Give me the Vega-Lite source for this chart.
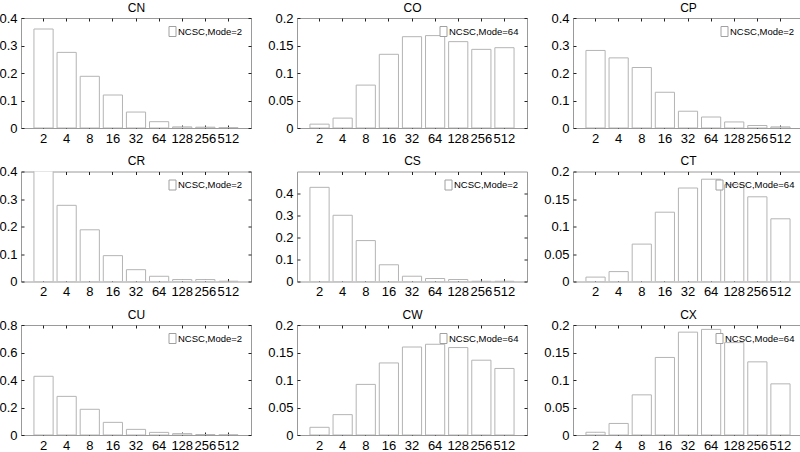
{
  "$schema": "https://vega.github.io/schema/vega-lite/v6.json",
  "padding": {"left": -7, "top": 0, "right": 0, "bottom": 0},
  "background": "white",
  "datasets": {
    "d": [
      {"panel":"CN","x":"2","v":0.360,"series":"NCSC,Mode=2"},
      {"panel":"CN","x":"4","v":0.275,"series":"NCSC,Mode=2"},
      {"panel":"CN","x":"8","v":0.188,"series":"NCSC,Mode=2"},
      {"panel":"CN","x":"16","v":0.120,"series":"NCSC,Mode=2"},
      {"panel":"CN","x":"32","v":0.058,"series":"NCSC,Mode=2"},
      {"panel":"CN","x":"64","v":0.023,"series":"NCSC,Mode=2"},
      {"panel":"CN","x":"128","v":0.004,"series":"NCSC,Mode=2"},
      {"panel":"CN","x":"256","v":0.003,"series":"NCSC,Mode=2"},
      {"panel":"CN","x":"512","v":0.001,"series":"NCSC,Mode=2"},
      {"panel":"CO","x":"2","v":0.007,"series":"NCSC,Mode=64"},
      {"panel":"CO","x":"4","v":0.018,"series":"NCSC,Mode=64"},
      {"panel":"CO","x":"8","v":0.078,"series":"NCSC,Mode=64"},
      {"panel":"CO","x":"16","v":0.134,"series":"NCSC,Mode=64"},
      {"panel":"CO","x":"32","v":0.166,"series":"NCSC,Mode=64"},
      {"panel":"CO","x":"64","v":0.168,"series":"NCSC,Mode=64"},
      {"panel":"CO","x":"128","v":0.157,"series":"NCSC,Mode=64"},
      {"panel":"CO","x":"256","v":0.143,"series":"NCSC,Mode=64"},
      {"panel":"CO","x":"512","v":0.146,"series":"NCSC,Mode=64"},
      {"panel":"CP","x":"2","v":0.282,"series":"NCSC,Mode=2"},
      {"panel":"CP","x":"4","v":0.255,"series":"NCSC,Mode=2"},
      {"panel":"CP","x":"8","v":0.220,"series":"NCSC,Mode=2"},
      {"panel":"CP","x":"16","v":0.130,"series":"NCSC,Mode=2"},
      {"panel":"CP","x":"32","v":0.061,"series":"NCSC,Mode=2"},
      {"panel":"CP","x":"64","v":0.040,"series":"NCSC,Mode=2"},
      {"panel":"CP","x":"128","v":0.022,"series":"NCSC,Mode=2"},
      {"panel":"CP","x":"256","v":0.009,"series":"NCSC,Mode=2"},
      {"panel":"CP","x":"512","v":0.004,"series":"NCSC,Mode=2"},
      {"panel":"CR","x":"2","v":0.430,"series":"NCSC,Mode=2"},
      {"panel":"CR","x":"4","v":0.277,"series":"NCSC,Mode=2"},
      {"panel":"CR","x":"8","v":0.188,"series":"NCSC,Mode=2"},
      {"panel":"CR","x":"16","v":0.094,"series":"NCSC,Mode=2"},
      {"panel":"CR","x":"32","v":0.043,"series":"NCSC,Mode=2"},
      {"panel":"CR","x":"64","v":0.019,"series":"NCSC,Mode=2"},
      {"panel":"CR","x":"128","v":0.007,"series":"NCSC,Mode=2"},
      {"panel":"CR","x":"256","v":0.007,"series":"NCSC,Mode=2"},
      {"panel":"CR","x":"512","v":0.001,"series":"NCSC,Mode=2"},
      {"panel":"CS","x":"2","v":0.428,"series":"NCSC,Mode=2"},
      {"panel":"CS","x":"4","v":0.301,"series":"NCSC,Mode=2"},
      {"panel":"CS","x":"8","v":0.186,"series":"NCSC,Mode=2"},
      {"panel":"CS","x":"16","v":0.076,"series":"NCSC,Mode=2"},
      {"panel":"CS","x":"32","v":0.024,"series":"NCSC,Mode=2"},
      {"panel":"CS","x":"64","v":0.0135,"series":"NCSC,Mode=2"},
      {"panel":"CS","x":"128","v":0.009,"series":"NCSC,Mode=2"},
      {"panel":"CS","x":"256","v":0.001,"series":"NCSC,Mode=2"},
      {"panel":"CS","x":"512","v":0.001,"series":"NCSC,Mode=2"},
      {"panel":"CT","x":"2","v":0.008,"series":"NCSC,Mode=64"},
      {"panel":"CT","x":"4","v":0.018,"series":"NCSC,Mode=64"},
      {"panel":"CT","x":"8","v":0.068,"series":"NCSC,Mode=64"},
      {"panel":"CT","x":"16","v":0.126,"series":"NCSC,Mode=64"},
      {"panel":"CT","x":"32","v":0.170,"series":"NCSC,Mode=64"},
      {"panel":"CT","x":"64","v":0.186,"series":"NCSC,Mode=64"},
      {"panel":"CT","x":"128","v":0.176,"series":"NCSC,Mode=64"},
      {"panel":"CT","x":"256","v":0.154,"series":"NCSC,Mode=64"},
      {"panel":"CT","x":"512","v":0.114,"series":"NCSC,Mode=64"},
      {"panel":"CU","x":"2","v":0.427,"series":"NCSC,Mode=2"},
      {"panel":"CU","x":"4","v":0.281,"series":"NCSC,Mode=2"},
      {"panel":"CU","x":"8","v":0.187,"series":"NCSC,Mode=2"},
      {"panel":"CU","x":"16","v":0.092,"series":"NCSC,Mode=2"},
      {"panel":"CU","x":"32","v":0.041,"series":"NCSC,Mode=2"},
      {"panel":"CU","x":"64","v":0.019,"series":"NCSC,Mode=2"},
      {"panel":"CU","x":"128","v":0.010,"series":"NCSC,Mode=2"},
      {"panel":"CU","x":"256","v":0.003,"series":"NCSC,Mode=2"},
      {"panel":"CU","x":"512","v":0.001,"series":"NCSC,Mode=2"},
      {"panel":"CW","x":"2","v":0.014,"series":"NCSC,Mode=64"},
      {"panel":"CW","x":"4","v":0.037,"series":"NCSC,Mode=64"},
      {"panel":"CW","x":"8","v":0.092,"series":"NCSC,Mode=64"},
      {"panel":"CW","x":"16","v":0.131,"series":"NCSC,Mode=64"},
      {"panel":"CW","x":"32","v":0.160,"series":"NCSC,Mode=64"},
      {"panel":"CW","x":"64","v":0.165,"series":"NCSC,Mode=64"},
      {"panel":"CW","x":"128","v":0.159,"series":"NCSC,Mode=64"},
      {"panel":"CW","x":"256","v":0.136,"series":"NCSC,Mode=64"},
      {"panel":"CW","x":"512","v":0.121,"series":"NCSC,Mode=64"},
      {"panel":"CX","x":"2","v":0.005,"series":"NCSC,Mode=64"},
      {"panel":"CX","x":"4","v":0.021,"series":"NCSC,Mode=64"},
      {"panel":"CX","x":"8","v":0.073,"series":"NCSC,Mode=64"},
      {"panel":"CX","x":"16","v":0.141,"series":"NCSC,Mode=64"},
      {"panel":"CX","x":"32","v":0.187,"series":"NCSC,Mode=64"},
      {"panel":"CX","x":"64","v":0.192,"series":"NCSC,Mode=64"},
      {"panel":"CX","x":"128","v":0.168,"series":"NCSC,Mode=64"},
      {"panel":"CX","x":"256","v":0.133,"series":"NCSC,Mode=64"},
      {"panel":"CX","x":"512","v":0.093,"series":"NCSC,Mode=64"}
    ]
  },
  "data": {"name": "d"},
  "columns": 3,
  "spacing": {"row": 7.5, "column": 15},
  "concat": [
    {"width":230,"height":110,"transform":[{"filter":"datum.panel==='CN'"}],
     "layer":[
      {"mark":{"type":"bar","stroke":"#b4b4b4","strokeWidth":1,"clip":true},
       "encoding":{
        "x":{"field":"x","type":"ordinal","sort":["2","4","8","16","32","64","128","256","512"],"scale":{"paddingInner":0.17,"paddingOuter":0.56},"axis":{"orient":"bottom","title":null}},
        "y":{"field":"v","type":"quantitative","scale":{"domain":[0,0.4],"nice":false,"zero":true},"axis":{"orient":"left","title":null,"values":[0,0.1,0.2,0.3,0.4]}},
        "fill":{"field":"series","type":"nominal","scale":{"range":["#ffffff"]},"legend":{}}}},
      {"mark":{"type":"bar","opacity":0,"clip":true},
       "encoding":{
        "x":{"field":"x","type":"ordinal","sort":["2","4","8","16","32","64","128","256","512"],"axis":{"orient":"top","title":"CN","titleFontWeight":"normal","labels":false,"minExtent":0,"maxExtent":0}},
        "y":{"field":"v","type":"quantitative","axis":{"orient":"right","title":null,"labels":false,"values":[0,0.1,0.2,0.3,0.4],"minExtent":0,"maxExtent":0}}}}
     ],
     "resolve":{"axis":{"x":"independent","y":"independent"}}},
    {"width":230,"height":110,"transform":[{"filter":"datum.panel==='CO'"}],
     "layer":[
      {"mark":{"type":"bar","stroke":"#b4b4b4","strokeWidth":1,"clip":true},
       "encoding":{
        "x":{"field":"x","type":"ordinal","sort":["2","4","8","16","32","64","128","256","512"],"scale":{"paddingInner":0.17,"paddingOuter":0.56},"axis":{"orient":"bottom","title":null}},
        "y":{"field":"v","type":"quantitative","scale":{"domain":[0,0.2],"nice":false,"zero":true},"axis":{"orient":"left","title":null,"values":[0,0.05,0.1,0.15,0.2]}},
        "fill":{"field":"series","type":"nominal","scale":{"range":["#ffffff"]},"legend":{}}}},
      {"mark":{"type":"bar","opacity":0,"clip":true},
       "encoding":{
        "x":{"field":"x","type":"ordinal","sort":["2","4","8","16","32","64","128","256","512"],"axis":{"orient":"top","title":"CO","titleFontWeight":"normal","labels":false,"minExtent":0,"maxExtent":0}},
        "y":{"field":"v","type":"quantitative","axis":{"orient":"right","title":null,"labels":false,"values":[0,0.05,0.1,0.15,0.2],"minExtent":0,"maxExtent":0}}}}
     ],
     "resolve":{"axis":{"x":"independent","y":"independent"}}},
    {"width":230,"height":110,"transform":[{"filter":"datum.panel==='CP'"}],
     "layer":[
      {"mark":{"type":"bar","stroke":"#b4b4b4","strokeWidth":1,"clip":true},
       "encoding":{
        "x":{"field":"x","type":"ordinal","sort":["2","4","8","16","32","64","128","256","512"],"scale":{"paddingInner":0.17,"paddingOuter":0.56},"axis":{"orient":"bottom","title":null}},
        "y":{"field":"v","type":"quantitative","scale":{"domain":[0,0.4],"nice":false,"zero":true},"axis":{"orient":"left","title":null,"values":[0,0.1,0.2,0.3,0.4]}},
        "fill":{"field":"series","type":"nominal","scale":{"range":["#ffffff"]},"legend":{}}}},
      {"mark":{"type":"bar","opacity":0,"clip":true},
       "encoding":{
        "x":{"field":"x","type":"ordinal","sort":["2","4","8","16","32","64","128","256","512"],"axis":{"orient":"top","title":"CP","titleFontWeight":"normal","labels":false,"minExtent":0,"maxExtent":0}},
        "y":{"field":"v","type":"quantitative","axis":{"orient":"right","title":null,"labels":false,"values":[0,0.1,0.2,0.3,0.4],"minExtent":0,"maxExtent":0}}}}
     ],
     "resolve":{"axis":{"x":"independent","y":"independent"}}},
    {"width":230,"height":110,"transform":[{"filter":"datum.panel==='CR'"}],
     "layer":[
      {"mark":{"type":"bar","stroke":"#b4b4b4","strokeWidth":1,"clip":true},
       "encoding":{
        "x":{"field":"x","type":"ordinal","sort":["2","4","8","16","32","64","128","256","512"],"scale":{"paddingInner":0.17,"paddingOuter":0.56},"axis":{"orient":"bottom","title":null}},
        "y":{"field":"v","type":"quantitative","scale":{"domain":[0,0.4],"nice":false,"zero":true},"axis":{"orient":"left","title":null,"values":[0,0.1,0.2,0.3,0.4]}},
        "fill":{"field":"series","type":"nominal","scale":{"range":["#ffffff"]},"legend":{}}}},
      {"mark":{"type":"bar","opacity":0,"clip":true},
       "encoding":{
        "x":{"field":"x","type":"ordinal","sort":["2","4","8","16","32","64","128","256","512"],"axis":{"orient":"top","title":"CR","titleFontWeight":"normal","labels":false,"minExtent":0,"maxExtent":0}},
        "y":{"field":"v","type":"quantitative","axis":{"orient":"right","title":null,"labels":false,"values":[0,0.1,0.2,0.3,0.4],"minExtent":0,"maxExtent":0}}}}
     ],
     "resolve":{"axis":{"x":"independent","y":"independent"}}},
    {"width":230,"height":110,"transform":[{"filter":"datum.panel==='CS'"}],
     "layer":[
      {"mark":{"type":"bar","stroke":"#b4b4b4","strokeWidth":1,"clip":true},
       "encoding":{
        "x":{"field":"x","type":"ordinal","sort":["2","4","8","16","32","64","128","256","512"],"scale":{"paddingInner":0.17,"paddingOuter":0.56},"axis":{"orient":"bottom","title":null}},
        "y":{"field":"v","type":"quantitative","scale":{"domain":[0,0.5],"nice":false,"zero":true},"axis":{"orient":"left","title":null,"values":[0,0.1,0.2,0.3,0.4]}},
        "fill":{"field":"series","type":"nominal","scale":{"range":["#ffffff"]},"legend":{}}}},
      {"mark":{"type":"bar","opacity":0,"clip":true},
       "encoding":{
        "x":{"field":"x","type":"ordinal","sort":["2","4","8","16","32","64","128","256","512"],"axis":{"orient":"top","title":"CS","titleFontWeight":"normal","labels":false,"minExtent":0,"maxExtent":0}},
        "y":{"field":"v","type":"quantitative","axis":{"orient":"right","title":null,"labels":false,"values":[0,0.1,0.2,0.3,0.4],"minExtent":0,"maxExtent":0}}}}
     ],
     "resolve":{"axis":{"x":"independent","y":"independent"}}},
    {"width":230,"height":110,"transform":[{"filter":"datum.panel==='CT'"}],
     "layer":[
      {"mark":{"type":"bar","stroke":"#b4b4b4","strokeWidth":1,"clip":true},
       "encoding":{
        "x":{"field":"x","type":"ordinal","sort":["2","4","8","16","32","64","128","256","512"],"scale":{"paddingInner":0.17,"paddingOuter":0.56},"axis":{"orient":"bottom","title":null}},
        "y":{"field":"v","type":"quantitative","scale":{"domain":[0,0.2],"nice":false,"zero":true},"axis":{"orient":"left","title":null,"values":[0,0.05,0.1,0.15,0.2]}},
        "fill":{"field":"series","type":"nominal","scale":{"range":["#ffffff"]},"legend":{}}}},
      {"mark":{"type":"bar","opacity":0,"clip":true},
       "encoding":{
        "x":{"field":"x","type":"ordinal","sort":["2","4","8","16","32","64","128","256","512"],"axis":{"orient":"top","title":"CT","titleFontWeight":"normal","labels":false,"minExtent":0,"maxExtent":0}},
        "y":{"field":"v","type":"quantitative","axis":{"orient":"right","title":null,"labels":false,"values":[0,0.05,0.1,0.15,0.2],"minExtent":0,"maxExtent":0}}}}
     ],
     "resolve":{"axis":{"x":"independent","y":"independent"}}},
    {"width":230,"height":110,"transform":[{"filter":"datum.panel==='CU'"}],
     "layer":[
      {"mark":{"type":"bar","stroke":"#b4b4b4","strokeWidth":1,"clip":true},
       "encoding":{
        "x":{"field":"x","type":"ordinal","sort":["2","4","8","16","32","64","128","256","512"],"scale":{"paddingInner":0.17,"paddingOuter":0.56},"axis":{"orient":"bottom","title":null}},
        "y":{"field":"v","type":"quantitative","scale":{"domain":[0,0.8],"nice":false,"zero":true},"axis":{"orient":"left","title":null,"values":[0,0.2,0.4,0.6,0.8]}},
        "fill":{"field":"series","type":"nominal","scale":{"range":["#ffffff"]},"legend":{}}}},
      {"mark":{"type":"bar","opacity":0,"clip":true},
       "encoding":{
        "x":{"field":"x","type":"ordinal","sort":["2","4","8","16","32","64","128","256","512"],"axis":{"orient":"top","title":"CU","titleFontWeight":"normal","labels":false,"minExtent":0,"maxExtent":0}},
        "y":{"field":"v","type":"quantitative","axis":{"orient":"right","title":null,"labels":false,"values":[0,0.2,0.4,0.6,0.8],"minExtent":0,"maxExtent":0}}}}
     ],
     "resolve":{"axis":{"x":"independent","y":"independent"}}},
    {"width":230,"height":110,"transform":[{"filter":"datum.panel==='CW'"}],
     "layer":[
      {"mark":{"type":"bar","stroke":"#b4b4b4","strokeWidth":1,"clip":true},
       "encoding":{
        "x":{"field":"x","type":"ordinal","sort":["2","4","8","16","32","64","128","256","512"],"scale":{"paddingInner":0.17,"paddingOuter":0.56},"axis":{"orient":"bottom","title":null}},
        "y":{"field":"v","type":"quantitative","scale":{"domain":[0,0.2],"nice":false,"zero":true},"axis":{"orient":"left","title":null,"values":[0,0.05,0.1,0.15,0.2]}},
        "fill":{"field":"series","type":"nominal","scale":{"range":["#ffffff"]},"legend":{}}}},
      {"mark":{"type":"bar","opacity":0,"clip":true},
       "encoding":{
        "x":{"field":"x","type":"ordinal","sort":["2","4","8","16","32","64","128","256","512"],"axis":{"orient":"top","title":"CW","titleFontWeight":"normal","labels":false,"minExtent":0,"maxExtent":0}},
        "y":{"field":"v","type":"quantitative","axis":{"orient":"right","title":null,"labels":false,"values":[0,0.05,0.1,0.15,0.2],"minExtent":0,"maxExtent":0}}}}
     ],
     "resolve":{"axis":{"x":"independent","y":"independent"}}},
    {"width":230,"height":110,"transform":[{"filter":"datum.panel==='CX'"}],
     "layer":[
      {"mark":{"type":"bar","stroke":"#b4b4b4","strokeWidth":1,"clip":true},
       "encoding":{
        "x":{"field":"x","type":"ordinal","sort":["2","4","8","16","32","64","128","256","512"],"scale":{"paddingInner":0.17,"paddingOuter":0.56},"axis":{"orient":"bottom","title":null}},
        "y":{"field":"v","type":"quantitative","scale":{"domain":[0,0.2],"nice":false,"zero":true},"axis":{"orient":"left","title":null,"values":[0,0.05,0.1,0.15,0.2]}},
        "fill":{"field":"series","type":"nominal","scale":{"range":["#ffffff"]},"legend":{}}}},
      {"mark":{"type":"bar","opacity":0,"clip":true},
       "encoding":{
        "x":{"field":"x","type":"ordinal","sort":["2","4","8","16","32","64","128","256","512"],"axis":{"orient":"top","title":"CX","titleFontWeight":"normal","labels":false,"minExtent":0,"maxExtent":0}},
        "y":{"field":"v","type":"quantitative","axis":{"orient":"right","title":null,"labels":false,"values":[0,0.05,0.1,0.15,0.2],"minExtent":0,"maxExtent":0}}}}
     ],
     "resolve":{"axis":{"x":"independent","y":"independent"}}}
  ],
  "resolve": {"scale": {"fill": "independent", "x": "independent", "y": "independent"}, "legend": {"fill": "independent"}},
  "config": {
    "font": "Liberation Sans",
    "view": {"stroke": "#9a9a9a", "strokeWidth": 1},
    "style": {"guide-title": {"fontWeight": "normal", "fontSize": 12, "fill": "#000000"}},
    "axis": {
      "grid": false, "labelFontSize": 13, "labelColor": "#000000", "labelFont": "Liberation Sans",
      "domain": false, "tickColor": "#222222", "tickSize": 3, "offset": -3, "tickWidth": 1, "labelPadding": 4,
      "labelOverlap": false, "labelBound": false, "labelFlush": false, "format": "~g",
      "titleFontSize": 12, "titleFontWeight": "normal", "titleColor": "#000000", "titleFont": "Liberation Sans", "titlePadding": 7
    },
    "axisX": {"labelAngle": 0, "minExtent": 18, "maxExtent": 18},
    "axisY": {"minExtent": 30, "maxExtent": 30},
    "legend": {
      "orient": "top-right", "offset": 8, "padding": 0, "title": null, "labelFontSize": 9.5, "labelFont": "Liberation Sans",
      "labelColor": "#000000", "symbolType": "M-0.7,-1H0.7V1H-0.7Z", "symbolSize": 100, "symbolStrokeColor": "#a0a0a0",
      "symbolStrokeWidth": 1, "symbolFillColor": "#ffffff", "labelOffset": 0, "rowPadding": 0
    }
  }
}
